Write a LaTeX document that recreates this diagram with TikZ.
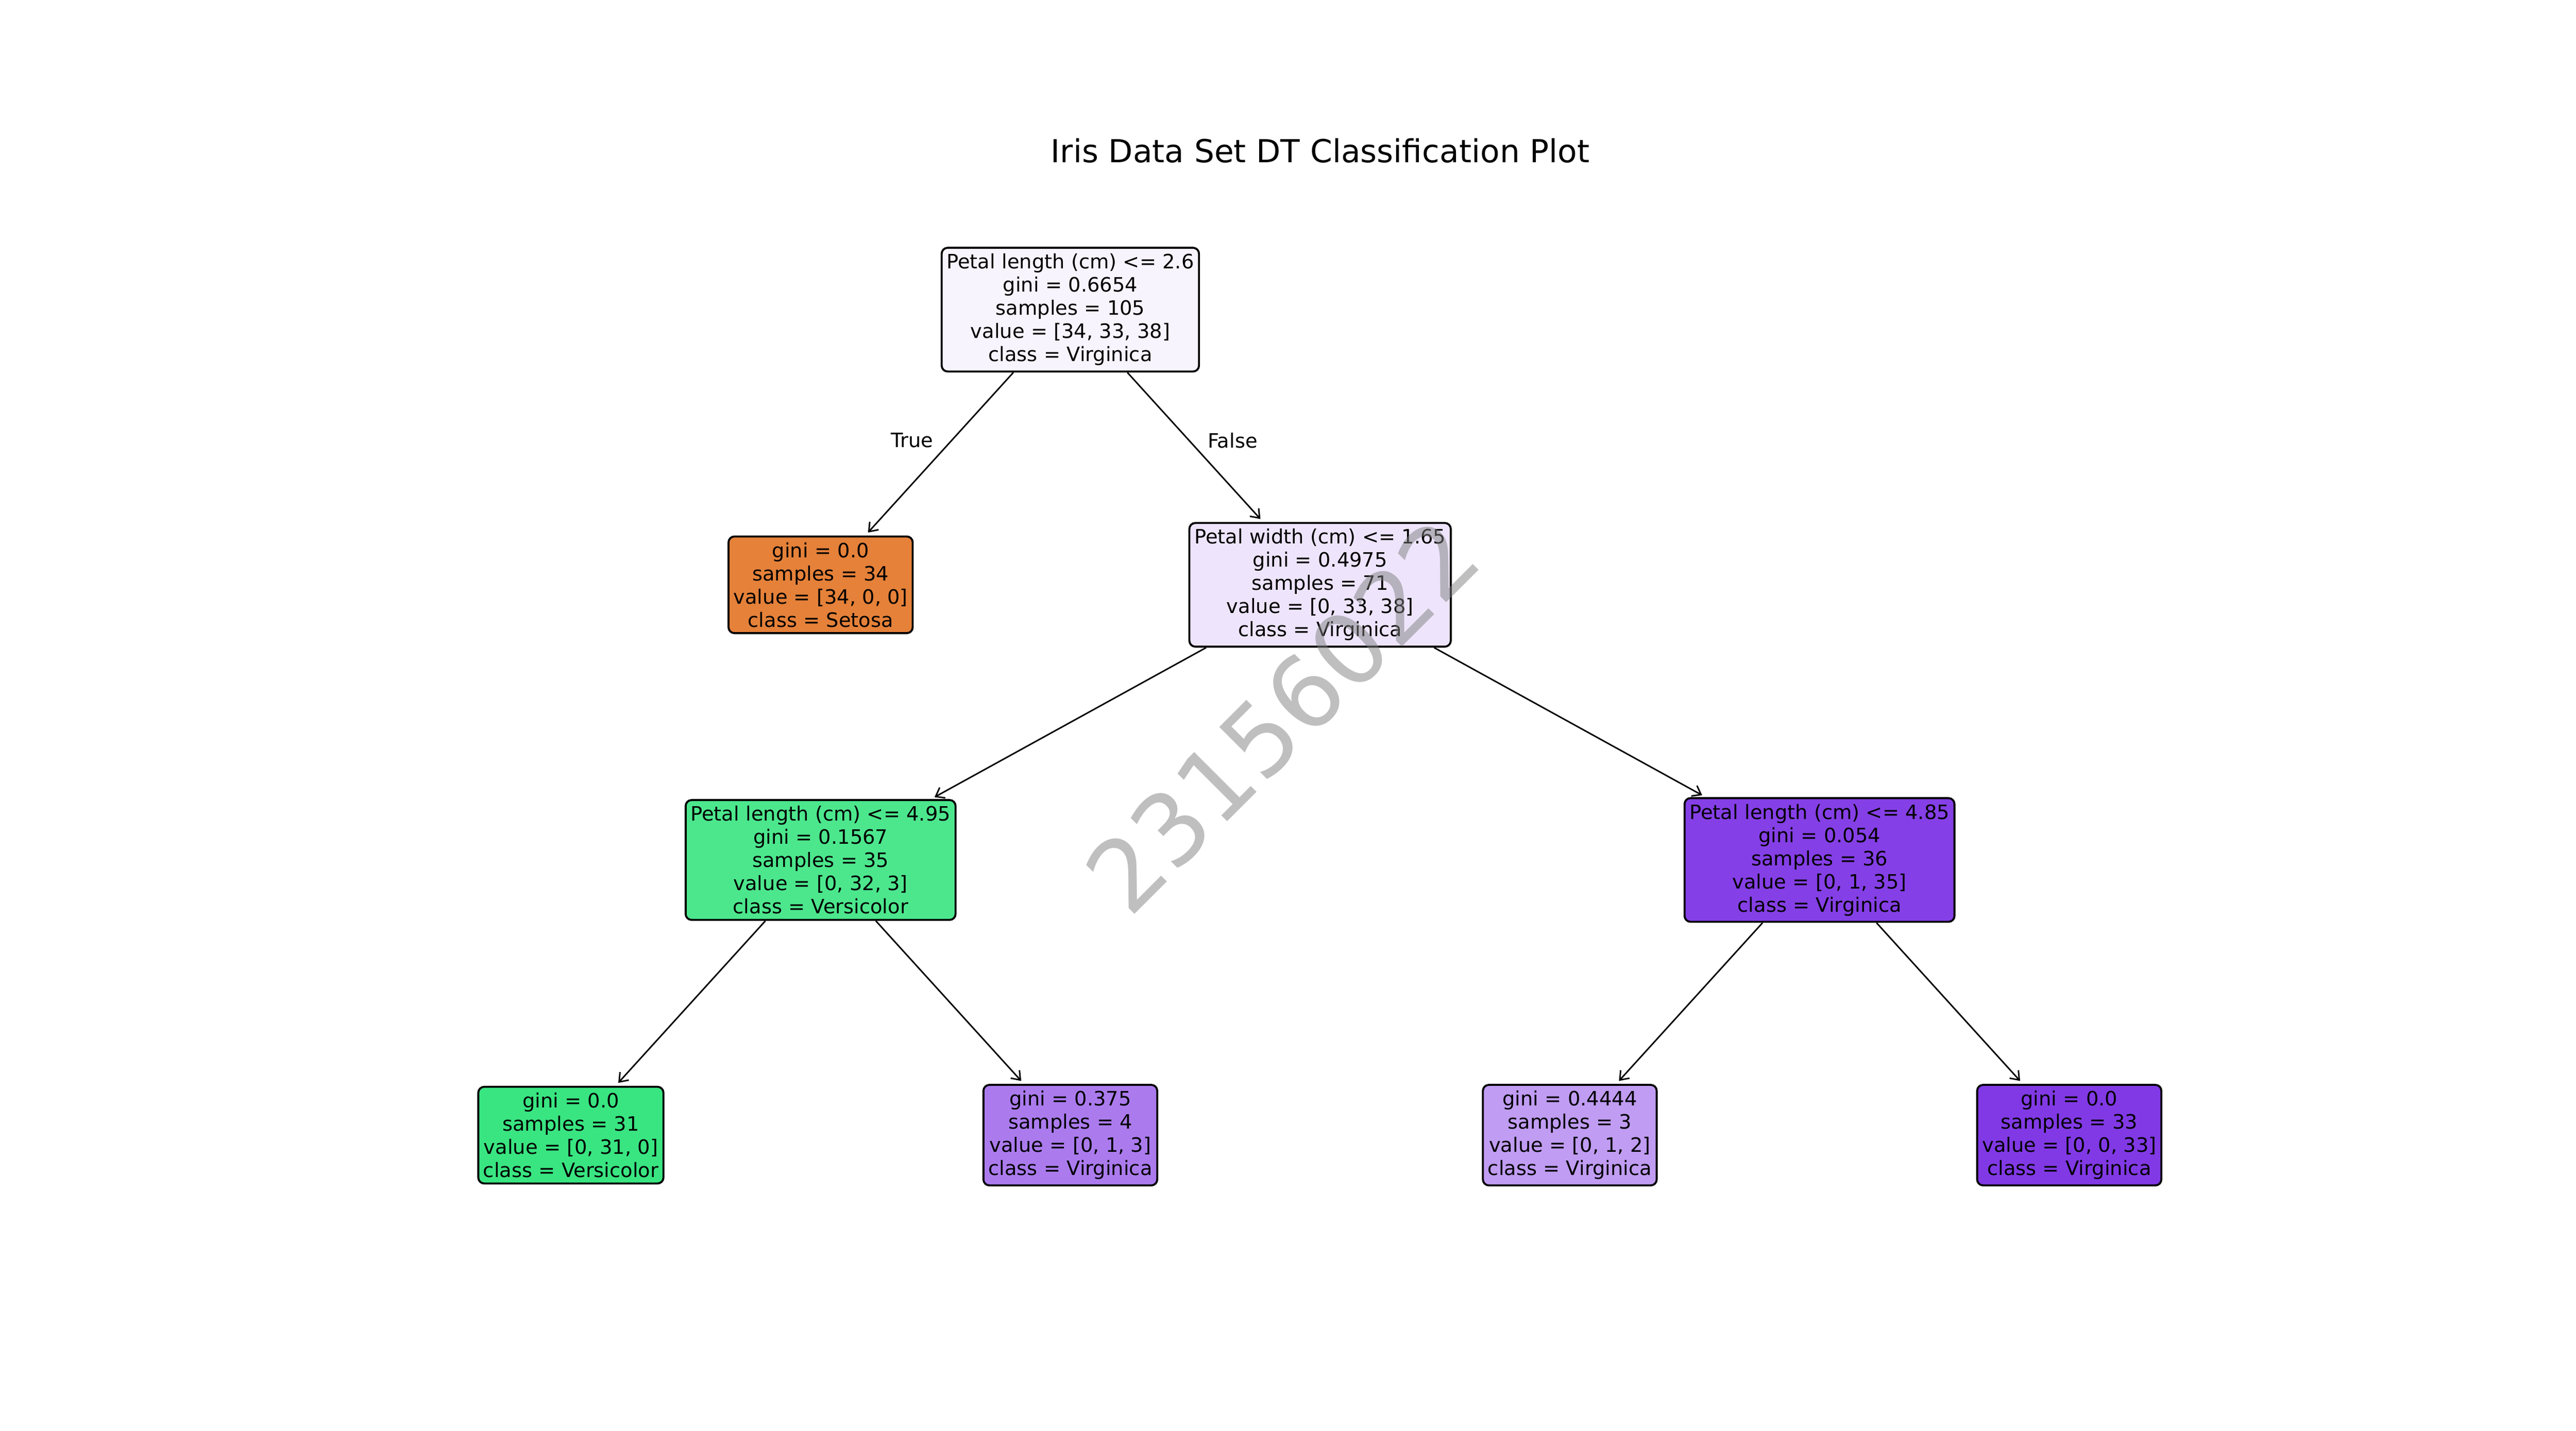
\documentclass[tikz,border=0pt]{standalone}
\usepackage{fontspec}
\setmainfont{DejaVu Sans}
\usetikzlibrary{arrows.meta}
\definecolor{rootfill}{RGB}{248,244,254}
\definecolor{pwfill}{RGB}{238,229,252}
\definecolor{setosa}{RGB}{229,129,57}
\definecolor{versi}{RGB}{57,229,129}
\definecolor{virgi}{RGB}{129,57,229}
\definecolor{plafill}{RGB}{76,231,141}
\definecolor{plbfill}{RGB}{133,63,230}
\definecolor{leafc}{RGB}{171,123,238}
\definecolor{leafd}{RGB}{192,156,242}
\tikzset{%
  myedge/.style={-{Straight Barb[length=4pt,width=6pt]}, shorten >=2pt, line width=0.75pt},
  mynode/.style={draw=black, line width=1pt, rounded corners=3pt, align=center,
    inner xsep=2.5pt, inner ysep=3pt, font=\fontsize{10}{11.7}\selectfont},
  mywater/.style={rotate=45, inner sep=0pt, text=black!50, text opacity=0.5,
    font=\fontsize{50}{60}\selectfont}
}

\begin{document}
\begin{tikzpicture}[x=1in, y=-1in]

\fill [white] (0,0) rectangle (18,10);
\useasboundingbox (0,0) rectangle (18,10);

\foreach \i in {0,1,2,3,4,5,6} {
  \foreach \j in {0,1,2,3} {
    \coordinate [] (X\i\j) at ({3.989+1.745*\i}, {2.164+1.923*\j});
  }
}

\node (title) at (9.225,1.055) {\fontsize{16}{19}\selectfont Iris Data Set DT Classification Plot};

\node (R) [mynode, fill=rootfill] at (X20) {Petal length (cm) <= 2.6\\gini = 0.6654\\samples = 105\\value = [34, 33, 38]\\class = Virginica};
\node (S) [mynode, fill=setosa] at (X11) {gini = 0.0\\samples = 34\\value = [34, 0, 0]\\class = Setosa};
\node (PW) [mynode, fill=pwfill] at (X31) {Petal width (cm) <= 1.65\\gini = 0.4975\\samples = 71\\value = [0, 33, 38]\\class = Virginica};
\node (PLa) [mynode, fill=plafill] at (X12) {Petal length (cm) <= 4.95\\gini = 0.1567\\samples = 35\\value = [0, 32, 3]\\class = Versicolor};
\node (PLb) [mynode, fill=plbfill] at (X52) {Petal length (cm) <= 4.85\\gini = 0.054\\samples = 36\\value = [0, 1, 35]\\class = Virginica};

\node (La) [mynode, fill=versi] at (X03) {gini = 0.0\\samples = 31\\value = [0, 31, 0]\\class = Versicolor};
\node (Lb) [mynode, fill=leafc] at (X23) {gini = 0.375\\samples = 4\\value = [0, 1, 3]\\class = Virginica};
\node (Lc) [mynode, fill=leafd] at (X43) {gini = 0.4444\\samples = 3\\value = [0, 1, 2]\\class = Virginica};
\node (Ld) [mynode, fill=virgi] at (X63) {gini = 0.0\\samples = 33\\value = [0, 0, 33]\\class = Virginica};

% edges
\draw [myedge] (R) -- (S);
\draw [myedge] (R) -- (PW);
\draw [myedge] (PW) -- (PLa);
\draw [myedge] (PW) -- (PLb);
\draw [myedge] (PLa) -- (La);
\draw [myedge] (PLa) -- (Lb);
\draw [myedge] (PLb) -- (Lc);
\draw [myedge] (PLb) -- (Ld);

\node (T) at (6.373,3.077) {True};
\node (F) at (8.613,3.077) {False};

% watermark
\node (W) [mywater] at (8.960,5.001) {23156022};
\end{tikzpicture}
\end{document}
